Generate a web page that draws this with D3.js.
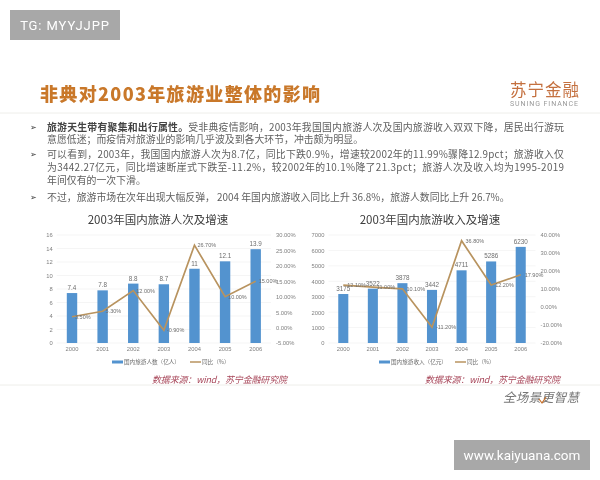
<!DOCTYPE html>
<html>
<head>
<meta charset="utf-8">
<script src="https://cdn.jsdelivr.net/npm/d3@7"></script>
<style>
  html, body { margin: 0; padding: 0; background: #fff; }
  svg { display: block; font-family: "Noto Sans CJK SC", "Noto Sans", sans-serif; filter: blur(0.3px); }
</style>
</head>
<body>
<svg id="chart" width="600" height="480"></svg>
<script>
// Chart data
const years = ['2000', '2001', '2002', '2003', '2004', '2005', '2006'];
const tourists = [7.4, 7.8, 8.8, 8.7, 11, 12.1, 13.9];
const touristsGrowth = [3.5, 5.3, 12, -0.9, 26.7, 10, 15];
const revenue = [3175, 3522, 3878, 3442, 4711, 5286, 6230];
const revenueGrowth = [12.1, 11, 10.1, -11.2, 36.8, 12.2, 17.9];
const touristsTicks = [0, 2, 4, 6, 8, 10, 12, 14, 16];
const touristsGrowthTicks = [-5, 0, 5, 10, 15, 20, 25, 30];
const revenueTicks = [0, 1000, 2000, 3000, 4000, 5000, 6000, 7000];
const revenueGrowthTicks = [-20, -10, 0, 10, 20, 30, 40];

// Slide text
const slideTitle = '非典对2003年旅游业整体的影响';
const bullets = [
    [{bold: '旅游天生带有聚集和出行属性。', text: '受非典疫情影响，2003年我国国内旅游人次及国内旅游收入双双下降，居民出行游玩', full: true},
     {text: '意愿低迷；而疫情对旅游业的影响几乎波及到各大环节，冲击颇为明显。'}],
    [{text: '可以看到，2003年，我国国内旅游人次为8.7亿，同比下跌0.9%，增速较2002年的11.99%骤降12.9pct；旅游收入仅', full: true},
     {text: '为3442.27亿元，同比增速断崖式下跌至-11.2%，较2002年的10.1%降了21.3pct；旅游人次及收入均为1995-2019', full: true},
     {text: '年间仅有的一次下滑。'}],
    [{text: '不过，旅游市场在次年出现大幅反弹， 2004 年国内旅游收入同比上升 36.8%，旅游人数同比上升 26.7%。'}]
];

const svg = d3.select('#chart');
const barColor = '#5393cf';
const lineColor = '#b8935f';
const tickColor = '#808080';

// Watermarks
function watermark(x, y, w, h, label, size, spacing) {
    svg.append('rect').attr('x', x).attr('y', y).attr('width', w).attr('height', h).attr('fill', '#a8a8a8');
    svg.append('text').attr('x', x + w / 2).attr('y', y + h / 2 + size * 0.36)
        .attr('text-anchor', 'middle').attr('font-size', size).attr('fill', '#fff')
        .attr('letter-spacing', spacing)
        .attr('font-family', 'Roboto, sans-serif').text(label);
}
watermark(10, 10, 110, 30, 'TG: MYYJJPP', 13, 0.9);
watermark(454, 440, 136, 30, 'www.kaiyuana.com', 13.5, 0);

// Header
svg.append('text').attr('x', 40).attr('y', 101)
    .attr('font-size', 18).attr('font-weight', 900).attr('fill', '#c9782a')
    .attr('textLength', 280).attr('lengthAdjust', 'spacing').text(slideTitle);
svg.append('text').attr('x', 510).attr('y', 96).attr('font-size', 16.5).attr('fill', '#c4703f')
    .attr('textLength', 69).text('苏宁金融');
svg.append('text').attr('x', 510).attr('y', 106).attr('font-size', 7).attr('fill', '#999')
    .attr('textLength', 68).attr('font-family', 'Roboto, sans-serif').text('SUNING FINANCE');
svg.append('line').attr('x1', 0).attr('x2', 600).attr('y1', 113).attr('y2', 113).attr('stroke', '#eeeeea');
svg.append('line').attr('x1', 0).attr('x2', 600).attr('y1', 385).attr('y2', 385).attr('stroke', '#eeeeea');
svg.append('text').attr('x', 503).attr('y', 402).attr('font-size', 12.5).attr('fill', '#777')
    .attr('font-style', 'italic').attr('textLength', 76).text('全场景更智慧');
svg.append('path').attr('d', 'M539,399 L542,403 L546,397').attr('fill', 'none')
    .attr('stroke', '#c9702a').attr('stroke-width', 1.2);

// Bullets
const lineYs = [[127, 139.5], [154, 167, 180], [197]];
bullets.forEach((lines, i) => {
    svg.append('text').attr('x', 30).attr('y', lineYs[i][0] + 3).attr('font-size', 8).attr('fill', '#333').text('➢');
    lines.forEach((line, j) => {
        const t = svg.append('text').attr('x', 47).attr('y', lineYs[i][j] + 3.5)
            .attr('font-size', 9.9).attr('fill', '#5f5f5f');
        if (line.full) t.attr('textLength', 517);
        if (line.bold) t.append('tspan').attr('font-weight', 700).attr('fill', '#444').text(line.bold);
        t.append('tspan').text(line.text);
    });
});

// One combo chart: bars on the left axis, growth line on the right axis
function drawCombo(o) {
    const top = 235, bottom = 343;
    const x = d3.scaleBand().domain(years).range(o.xRange).paddingInner(0.66).paddingOuter(0.33);
    const yLeft = d3.scaleLinear().domain(d3.extent(o.leftTicks)).range([bottom, top]);
    const yRight = d3.scaleLinear().domain(d3.extent(o.rightTicks)).range([bottom, top]);
    const cx = d => x(d) + x.bandwidth() / 2;
    const g = svg.append('g');

    g.append('text').attr('x', o.titleX).attr('y', 224).attr('text-anchor', 'middle')
        .attr('font-size', 11.5).attr('fill', '#3c3c3c').text(o.title);

    // Gridlines
    g.selectAll('.grid').data(o.leftTicks).join('line').attr('class', 'grid')
        .attr('x1', o.xRange[0]).attr('x2', o.xRange[1])
        .attr('y1', d => yLeft(d)).attr('y2', d => yLeft(d))
        .attr('stroke', '#f1f1f1').attr('stroke-width', 0.7);

    // Axes
    const axes = [
        d3.axisBottom(x).tickSize(0).tickPadding(4),
        d3.axisLeft(yLeft).tickValues(o.leftTicks).tickFormat(d3.format('d')).tickSize(0).tickPadding(4),
        d3.axisRight(yRight).tickValues(o.rightTicks).tickSize(0).tickPadding(5)
            .tickFormat(d => d.toFixed(2) + '%')
    ];
    const translates = [[0, bottom], [o.xRange[0], 0], [o.xRange[1], 0]];
    axes.forEach((axis, i) => {
        const a = g.append('g').attr('transform', `translate(${translates[i]})`).call(axis);
        a.select('.domain').remove();
        a.selectAll('text').attr('font-size', 5.8).attr('fill', tickColor)
            .attr('font-family', 'Liberation Sans, sans-serif');
    });

    // Bars
    g.selectAll('.bar').data(years).join('rect').attr('class', 'bar')
        .attr('x', d => x(d)).attr('width', x.bandwidth())
        .attr('y', (d, i) => yLeft(o.bars[i]))
        .attr('height', (d, i) => bottom - yLeft(o.bars[i]))
        .attr('fill', barColor);
    g.selectAll('.bar-label').data(years).join('text').attr('class', 'bar-label')
        .attr('x', cx).attr('y', (d, i) => yLeft(o.bars[i]) - 3)
        .attr('text-anchor', 'middle').attr('font-size', 6.3).attr('fill', '#6e6e6e')
        .attr('font-family', 'Liberation Sans, sans-serif')
        .text((d, i) => o.bars[i]);

    // Growth line
    const line = d3.line().x(d => cx(d)).y((d, i) => yRight(o.growth[i]));
    g.append('path').datum(years).attr('d', line)
        .attr('fill', 'none').attr('stroke', lineColor).attr('stroke-width', 1.7);
    g.selectAll('.line-label').data(years).join('text').attr('class', 'line-label')
        .attr('x', d => cx(d) + o.labelDx).attr('y', (d, i) => yRight(o.growth[i]) + 2)
        .attr('font-size', 5.5).attr('fill', '#6e6e6e')
        .attr('font-family', 'Liberation Sans, sans-serif')
        .text((d, i) => o.growth[i].toFixed(2) + '%');

    // Legend
    const ly = 362;
    g.append('line').attr('x1', o.legendX).attr('x2', o.legendX + 11).attr('y1', ly).attr('y2', ly)
        .attr('stroke', barColor).attr('stroke-width', 3);
    g.append('text').attr('x', o.legendX + 12).attr('y', ly + 2).attr('font-size', 5.6)
        .attr('fill', '#6e6e6e').text(o.barName);
    g.append('line').attr('x1', o.legendX2).attr('x2', o.legendX2 + 11).attr('y1', ly).attr('y2', ly)
        .attr('stroke', lineColor).attr('stroke-width', 1.5);
    g.append('text').attr('x', o.legendX2 + 12).attr('y', ly + 2).attr('font-size', 5.6)
        .attr('fill', '#6e6e6e').text('同比（%）');

    // Source
    g.append('text').attr('x', o.sourceX).attr('y', 383).attr('font-size', 9)
        .attr('font-style', 'italic').attr('fill', '#a8475a').attr('textLength', 135)
        .text('数据来源：wind，苏宁金融研究院');
}

drawCombo({
    title: '2003年国内旅游人次及增速', titleX: 158,
    xRange: [56.7, 271], leftTicks: touristsTicks, rightTicks: touristsGrowthTicks,
    bars: tourists, growth: touristsGrowth, labelDx: 3,
    barName: '国内旅游人数（亿人）', legendX: 112, legendX2: 190, sourceX: 152
});
drawCombo({
    title: '2003年国内旅游收入及增速', titleX: 430,
    xRange: [328.5, 535.5], leftTicks: revenueTicks, rightTicks: revenueGrowthTicks,
    bars: revenue, growth: revenueGrowth, labelDx: 4,
    barName: '国内旅游收入（亿元）', legendX: 379, legendX2: 455, sourceX: 425
});
</script>
</body>
</html>
